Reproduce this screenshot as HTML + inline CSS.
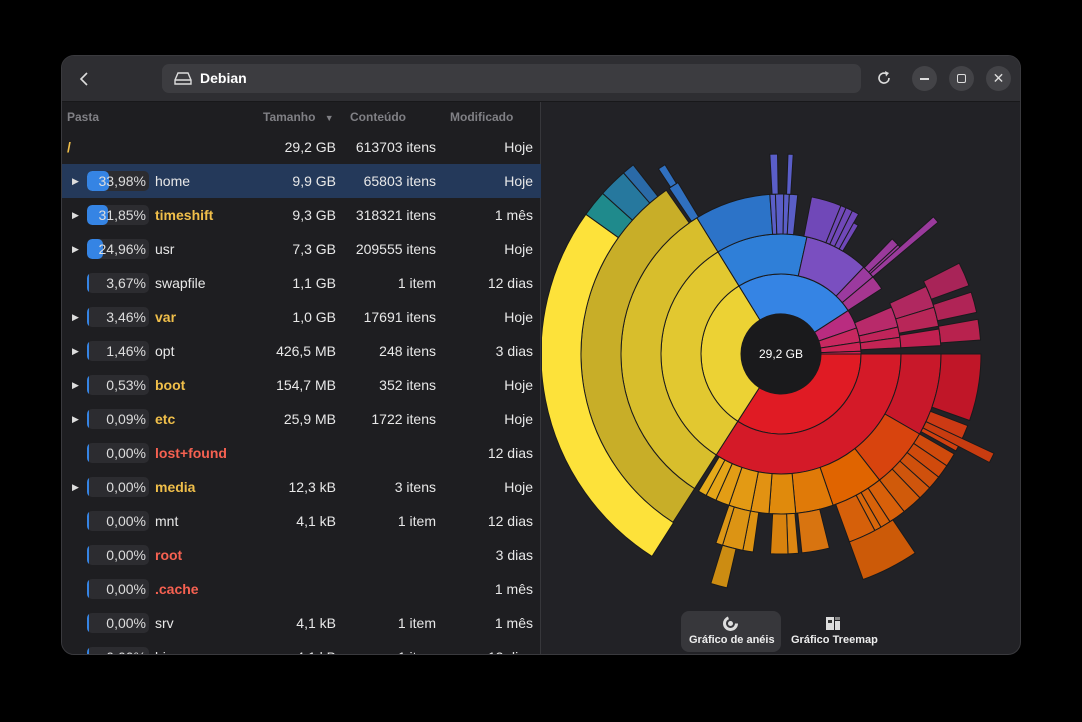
<!DOCTYPE html>
<html><head><meta charset="utf-8"><style>
*{margin:0;padding:0;box-sizing:border-box}
body{width:1082px;height:722px;background:#000;font-family:"Liberation Sans",sans-serif;position:relative;overflow:hidden}
.win{position:absolute;left:61px;top:55px;width:960px;height:600px;border-radius:13px;overflow:hidden;background:#222226;border:1px solid #3a3a3e}
.hdr{position:absolute;left:0;top:0;width:960px;height:46px;background:#2e2e32;border-bottom:1px solid #18181a}
.addr{position:absolute;left:100px;top:8px;width:699px;height:29px;background:#3c3c40;border-radius:7px;color:#fff;font-weight:bold;font-size:14px;line-height:29px;padding-left:38px}
.cb{position:absolute;top:10px;width:25px;height:25px;border-radius:50%;background:#434347}
.left{position:absolute;left:0;top:46px;width:479px;height:554px;background:#1e1e21;border-right:1px solid #37373b}
.ch{position:absolute;top:8px;font-size:12px;font-weight:bold;color:#808085}
.row{position:absolute;left:0;width:479px;height:34px;font-size:14px;color:#e8e8e8;line-height:34px}
.row span{position:absolute;white-space:nowrap}
.pill{position:absolute;left:25px;top:7px;width:62px;height:20px;background:#2c2c30;border-radius:5px;overflow:hidden}
.pill i{position:absolute;left:0;top:0;height:20px;background:#3584e4;border-radius:5px}
.pill b{position:absolute;right:3px;top:0;line-height:20px;font-weight:normal;color:#ddd;font-size:14px}
.y{color:#f0bf4a;font-weight:bold}.r{color:#f66151;font-weight:bold}
.tri{left:10px;font-size:9px;color:#ddd}
</style></head><body>
<div class="win">
<div class="hdr">
<svg style="position:absolute;left:16px;top:15px" width="14" height="16"><path d="M9 2 L3 8 L9 14" stroke="#ddd" stroke-width="1.6" fill="none"/></svg>
<div class="addr">Debian
<svg style="position:absolute;left:12px;top:8px" width="18" height="14"><path d="M4 1 H14 L17 8 V12 H1 V8 Z M1 8 H17" stroke="#ddd" stroke-width="1.4" fill="none"/></svg></div>
<svg style="position:absolute;left:814px;top:14px" width="16" height="16"><path d="M13 8 A5 5 0 1 1 10 3.5" stroke="#ddd" stroke-width="1.6" fill="none"/><path d="M9 1 L13 3 L10 6.5Z" fill="#ddd"/></svg>
<div class="cb" style="left:850px"><div style="position:absolute;left:8px;top:12px;width:9px;height:1.5px;background:#ddd"></div></div>
<div class="cb" style="left:887px"><div style="position:absolute;left:8px;top:8px;width:9px;height:9px;border:1.5px solid #ddd;border-radius:2px"></div></div>
<div class="cb" style="left:924px;color:#ddd;text-align:center;line-height:25px;font-size:14px">✕</div>
</div>
<div class="left">
<div class="ch" style="left:5px">Pasta</div>
<div class="ch" style="left:201px">Tamanho <span style="margin-left:6px;font-size:9px">▼</span></div>
<div class="ch" style="left:288px">Conteúdo</div>
<div class="ch" style="left:388px">Modificado</div>
<div id="rows"></div>
</div>
<svg id="ch" style="position:absolute;left:480px;top:46px" width="480" height="554"></svg>
<div style="position:absolute;left:619px;top:555px;width:100px;height:41px;background:#37373b;border-radius:8px"></div>
<svg style="position:absolute;left:661px;top:560px" width="15" height="15"><circle cx="7.5" cy="7.5" r="6" fill="none" stroke="#ddd" stroke-width="3" stroke-dasharray="26 12"/><circle cx="7.5" cy="7.5" r="2.5" fill="#ddd"/></svg>
<div style="position:absolute;left:627px;top:578px;font-size:11px;font-weight:bold;color:#eee">Gráfico de anéis</div>
<svg style="position:absolute;left:763px;top:560px" width="16" height="15"><rect x="1" y="1" width="8" height="13" fill="#ddd"/><rect x="3" y="4" width="4" height="3" fill="#333"/><rect x="10" y="1" width="5" height="3" fill="#888"/><rect x="10" y="5" width="5" height="9" fill="#ddd"/></svg>
<div style="position:absolute;left:729px;top:578px;font-size:11px;font-weight:bold;color:#eee">Gráfico Treemap</div>
</div>
<script>
var rows=[["/","29,2 GB","613703 itens","Hoje",null,"y0"],
["home","9,9 GB","65803 itens","Hoje","33,98%","",1],
["timeshift","9,3 GB","318321 itens","1 mês","31,85%","y",1],
["usr","7,3 GB","209555 itens","Hoje","24,96%","",1],
["swapfile","1,1 GB","1 item","12 dias","3,67%","",0],
["var","1,0 GB","17691 itens","Hoje","3,46%","y",1],
["opt","426,5 MB","248 itens","3 dias","1,46%","",1],
["boot","154,7 MB","352 itens","Hoje","0,53%","y",1],
["etc","25,9 MB","1722 itens","Hoje","0,09%","y",1],
["lost+found","","","12 dias","0,00%","r",0],
["media","12,3 kB","3 itens","Hoje","0,00%","y",1],
["mnt","4,1 kB","1 item","12 dias","0,00%","",0],
["root","","","3 dias","0,00%","r",0],
[".cache","","","1 mês","0,00%","r",0],
["srv","4,1 kB","1 item","1 mês","0,00%","",0],
["bin","4,1 kB","1 item","12 dias","0,00%","",0]];
var h="";
rows.forEach(function(r,i){var top=28+i*34;
h+='<div class="row" style="top:'+top+'px;'+(i==1?'background:#24395a':'')+'">';
if(r[6])h+='<span class="tri">▶</span>';
if(r[4]){var p=parseFloat(r[4].replace(",","."));h+='<div class="pill"><i style="width:'+Math.max(2,p*0.65)+'px"></i><b>'+r[4]+'</b></div>';}
var cls=r[5]=="y0"?"y":r[5];
h+='<span class="'+cls+'" style="left:'+(i==0?5:93)+'px">'+r[0]+'</span>';
h+='<span style="right:205px">'+r[1]+'</span><span style="right:105px">'+r[2]+'</span><span style="right:8px">'+r[3]+'</span></div>';});
document.getElementById("rows").innerHTML=h;
var cx=239,cy=252,R=[40,80,120,160,200,240];
function arc(a0,a1,r0,r1,c){var d=Math.PI/180;function p(r,a){return (cx+r*Math.cos(a*d)).toFixed(2)+" "+(cy+r*Math.sin(a*d)).toFixed(2)}
var l=(a1-a0)>180?1:0;return '<path d="M'+p(r0,a0)+' L'+p(r1,a0)+' A'+r1+' '+r1+' 0 '+l+' 1 '+p(r1,a1)+' L'+p(r0,a1)+' A'+r0+' '+r0+' 0 '+l+' 0 '+p(r0,a0)+'Z" fill="'+c+'" stroke="#1a1a1c" stroke-width="1"/>';}
var S=[
[0,122.7,1,"#e01b24"],[0,122.7,2,"#d41a28"],[0,30,3,"#c8182a"],[0,19.4,4,"#c01628"],
[21,27,4,"#cc3a14"],[27,29,4,"#d0400f"],[25,27.5,4,"#c83c10",235],
[30,52,3,"#d8440e"],[30,34,4,"#d04a0c"],[34,38,4,"#d04a0c"],[38,42,4,"#cf500c"],[42,46,4,"#cf550c"],[46,52,4,"#d05a0a"],
[52,71,3,"#e06400"],[52,57,4,"#d8600a"],[57,60,4,"#d8620a"],[60,62,4,"#d8660a"],[62,70,4,"#d6600a"],[56,70,5,"#cc5a08"],
[71,84.7,3,"#e07a08"],[84.7,94.3,3,"#e08a0c"],[94.3,100.9,3,"#e29212"],[100.9,109,3,"#e39a14"],[109,114,3,"#e39d15"],[114,117.9,3,"#e5a518"],[117.9,121,3,"#e6aa1a"],
[76,84,4,"#d87410"],[85,88,4,"#dc8612"],[88,93,4,"#d8820e"],[98,101,4,"#dc9212"],[101,107,4,"#dc9414"],[103,107,5,"#cc8c12"],[107,109,4,"#dc9616"],
[122.7,238.3,1,"#ecd234"],[122.7,238.3,2,"#e2c830"],[122.7,238.3,3,"#d8be2c"],[122.7,235,4,"#c8ae28"],[122.5,215.6,5,"#fde23a"],
[215.6,222,5,"#1f8a8c"],[222,229,5,"#26789e"],[229,232,5,"#2a6aa8"],[236,239,4,"#3070c0"],[236.5,238.5,5,"#3070c0",222],
[238.3,327.1,1,"#3584e4"],[238.3,282.5,2,"#2f7fd8"],[282.5,313.6,2,"#7a4fc0"],[313.6,320,2,"#9b3a9f"],[320,327,2,"#a63690"],
[238.3,266,3,"#2c73c8"],[266,268,3,"#5a5ec8"],[268,271,3,"#5a5ec8"],[271,273,3,"#5a5ec8"],[273,276,3,"#5a5ec8"],
[266.8,269,4,"#5a5ec8"],[272,273.5,4,"#5a5ec8"],
[281,292,3,"#7048b8"],[292,294,3,"#7048b8"],[294,296.5,3,"#7048b8"],[296.5,299,3,"#7048b8"],[299,301,3,"#7048b8",150],
[314,317,3,"#9a3a9c"],[317,319,3,"#9a3a9c"],[318,320,3,"#9a3a9c",205],
[327.1,341,1,"#b92c80"],[341,351.4,1,"#c82860"],[351.4,358,1,"#cc2456"],[358,360,1,"#d02050"],
[337,347,2,"#b82a6a"],[347,352,2,"#c0245a"],[352,357,2,"#c42454"],
[335,343,3,"#b02860"],[343,350,3,"#b82658"],[351,357,3,"#c02050"],
[333,340,4,"#a82458"],[342,348,4,"#b02456"],[350,356,4,"#b8224e"]];
var o="";S.forEach(function(s){var r1=s[4]||R[s[2]];o+=arc(s[0],s[1],R[s[2]-1],r1,s[3]);});
o+='<circle cx="'+cx+'" cy="'+cy+'" r="40" fill="#1a1a1c"/><text x="'+cx+'" y="'+(cy+4)+'" fill="#fff" font-size="12" text-anchor="middle" font-family="Liberation Sans">29,2 GB</text>';
document.getElementById("ch").innerHTML=o;
</script>
</body></html>
